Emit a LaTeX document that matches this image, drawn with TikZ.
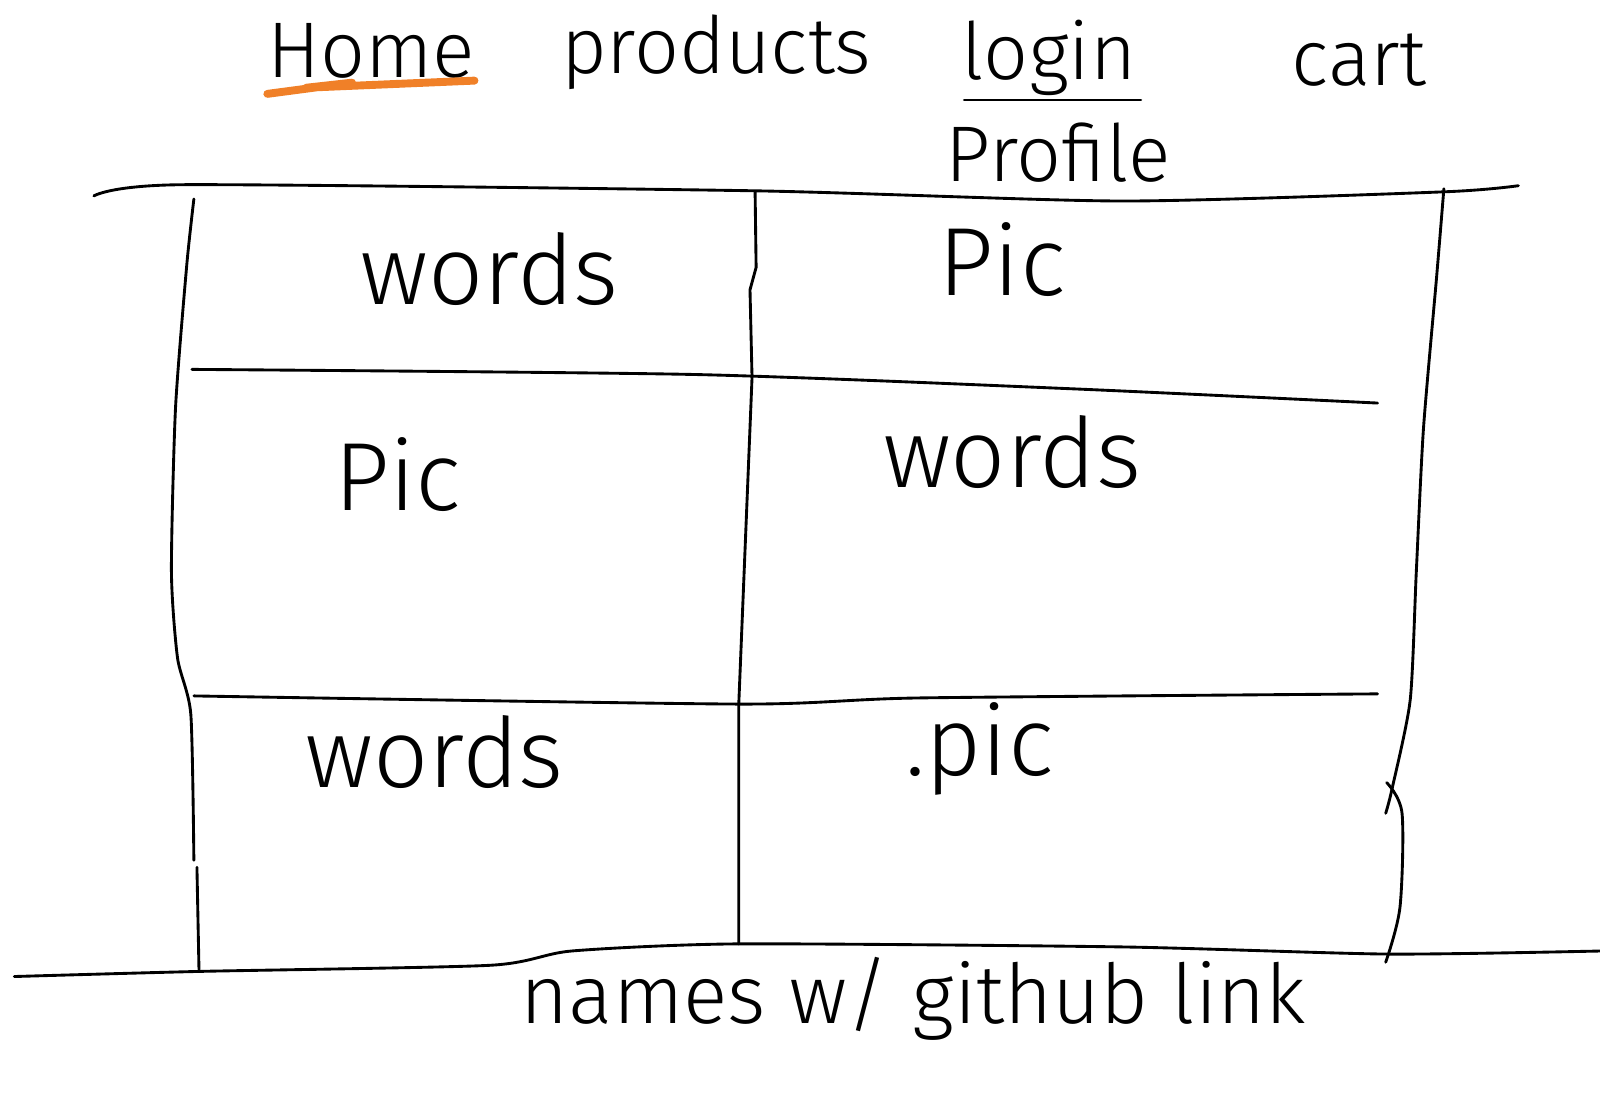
\documentclass[tikz,border=0pt]{standalone}
\usepackage{fontspec}
\setmainfont{Fira Sans Light}
\definecolor{marker}{RGB}{240,128,40}
\begin{document}
\begin{tikzpicture}[x=0.01cm,y=-0.01cm,
        pen/.style={line width=0.8pt,line join=round,line cap=round},
        navtext/.style={font=\fontsize{22}{24}\selectfont,inner sep=0pt,anchor=base},
        celltext/.style={font=\fontsize{27}{29}\selectfont,inner sep=0pt,anchor=base}]
    \useasboundingbox (0,0) rectangle (1568,1073);
    % nav bar
    \node[navtext] (home) at (364,76) {Home};
    \node[navtext] (products) at (702,72) {products};
    \node[navtext] (login) at (1028,78) {login};
    \node[navtext] (profile) at (1037,178) {Profile};
    \node[navtext] (cart) at (1332,84) {cart};
    \coordinate (uA) at (262,92);
    \coordinate (uB) at (345,81);
    \coordinate (uC) at (300,86);
    \coordinate (uD) at (465,79);
    \draw[pen,marker,line width=2.2pt] (uA) -- (uB) -- (uC) -- (uD);
    \coordinate (sA) at (945,98);
    \coordinate (sB) at (1118,98);
    \draw[pen] (sA) -- (sB);
    % header rule
    \coordinate (tA) at (92,192);
    \coordinate (tB) at (180,181);
    \coordinate (tC) at (740,187);
    \coordinate (tD) at (1100,197);
    \coordinate (tE) at (1415,188);
    \coordinate (tF) at (1488,182);
    \draw[pen] plot[smooth,tension=0.4] coordinates {(tA) (tB) (tC) (tD) (tE) (tF)};
    % outer columns
    \coordinate (lA) at (190,195);
    \coordinate (lB) at (183,260);
    \coordinate (lC) at (172,400);
    \coordinate (lD) at (168,560);
    \coordinate (lE) at (174,645);
    \coordinate (lF) at (187,700);
    \coordinate (lG) at (190,843);
    \coordinate (lH) at (193,850);
    \coordinate (lI) at (195,950);
    \draw[pen] plot[smooth,tension=0.4] coordinates {(lA) (lB) (lC) (lD) (lE) (lF) (lG)};
    \draw[pen] (lH) -- (lI);
    \coordinate (rA) at (1415,185);
    \coordinate (rB) at (1408,270);
    \coordinate (rC) at (1395,420);
    \coordinate (rD) at (1388,560);
    \coordinate (rE) at (1382,686);
    \coordinate (rX) at (1364,774);
    \coordinate (rF) at (1358,797);
    \coordinate (rG) at (1359,767);
    \coordinate (rH) at (1374,797);
    \coordinate (rI) at (1372,889);
    \coordinate (rJ) at (1358,943);
    \draw[pen] plot[smooth,tension=0.4] coordinates {(rA) (rB) (rC) (rD) (rE) (rX) (rF)};
    \draw[pen] plot[smooth,tension=0.5] coordinates {(rG) (rH) (rI) (rJ)};
    % middle column
    \coordinate (mA) at (740,188);
    \coordinate (mB) at (741,262);
    \coordinate (mK) at (735,284);
    \coordinate (mC) at (737,370);
    \coordinate (mD) at (724,690);
    \coordinate (mE) at (724,925);
    \draw[pen] (mA) -- (mB) -- (mK) -- (mC) -- (mD) -- (mE);
    % row rules
    \coordinate (aA) at (188,362);
    \coordinate (aB) at (680,367);
    \coordinate (aC) at (1050,381);
    \coordinate (aD) at (1350,395);
    \draw[pen] plot[smooth,tension=0.4] coordinates {(aA) (aB) (aC) (aD)};
    \coordinate (bA) at (190,682);
    \coordinate (bB) at (724,690);
    \coordinate (bC) at (900,684);
    \coordinate (bD) at (1350,680);
    \draw[pen] plot[smooth,tension=0.4] coordinates {(bA) (bB) (bC) (bD)};
    % footer rule
    \coordinate (fA) at (14,957);
    \coordinate (fB) at (195,952);
    \coordinate (fC) at (480,946);
    \coordinate (fD) at (560,932);
    \coordinate (fE) at (724,925);
    \coordinate (fF) at (1100,928);
    \coordinate (fG) at (1360,935);
    \coordinate (fH) at (1568,932);
    \draw[pen] plot[smooth,tension=0.4] coordinates {(fA) (fB) (fC) (fD) (fE) (fF) (fG) (fH)};
    % cell contents
    \node[celltext] (words1) at (480,298) {words};
    \node[celltext] (pic1) at (982,290) {Pic};
    \node[celltext] (pic2) at (390,500) {Pic};
    \node[celltext] (words2) at (992,478) {words};
    \node[celltext] (words3) at (426,772) {words};
    \node[celltext] (pic3) at (960,760) {.pic};
    \node[celltext,font=\fontsize{23}{25}\selectfont] (footer) at (895,1003) {names w/ github link};
\end{tikzpicture}
\end{document}
